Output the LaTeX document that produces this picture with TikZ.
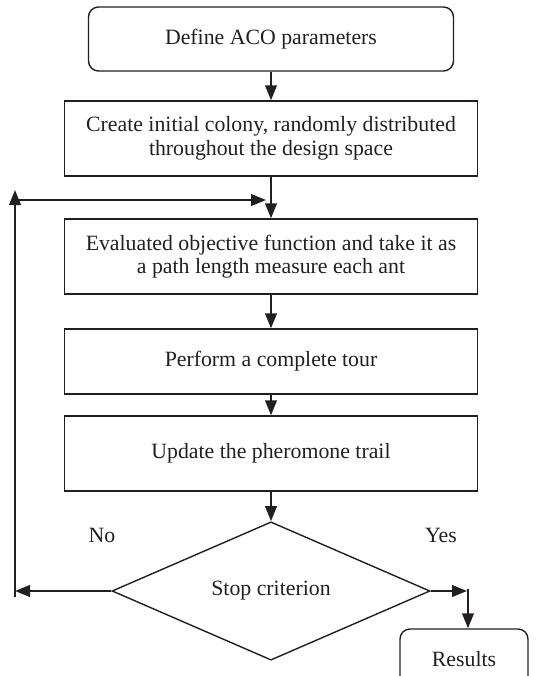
\documentclass[tikz,border=0pt]{standalone}
\usepackage{fontspec}
\setmainfont{Liberation Serif}
\usetikzlibrary{shapes.geometric,arrows.meta}
\definecolor{ink}{RGB}{35,31,32}

\begin{document}
\begin{tikzpicture}[x=0.5pt, y=-0.5pt,
  font=\fontsize{10.9}{11.8}\selectfont,
  stepbox/.style={draw=ink, line width=0.7pt, minimum width=206.5pt,
    minimum height=37.5pt, align=center, inner sep=2pt, text=ink},
  endbox/.style={stepbox, rounded corners=5pt},
  decision/.style={diamond, draw=ink, line width=0.7pt, minimum width=159pt,
    minimum height=52.5pt, inner sep=0pt, text=ink},
  flow/.style={draw=ink, line width=1.1pt, -{Triangle[length=7.5pt,width=5.8pt]}},
]

% Page size (pixels of the original)
\useasboundingbox (0,0) rectangle (539,676);

% Column of steps
\def\CX{271}

\node[endbox, minimum width=182.5pt, minimum height=32pt] (define) at (\CX,39) {Define ACO parameters};
\node[stepbox] (create) at (\CX,138.5) {Create initial colony, randomly distributed\\throughout the design space};
\node[stepbox] (evaluate) at (\CX,256.5) {Evaluated objective function and take it as\\a path length measure each ant};
\node[stepbox, minimum height=32.5pt] (tour) at (\CX,361.5) {Perform a complete tour};
\node[stepbox] (update) at (\CX,453.5) {Update the pheromone trail};

% Decision and end
\node[decision] (stop) at (\CX,591) {Stop criterion};
\node[endbox, minimum width=64pt, minimum height=30pt] (results) at (464,659) {Results};

% Labels
\node[text=ink] (no) at (102,535) {No};
\node[text=ink] (yes) at (441,535) {Yes};

% Main flow
\draw[flow] (define) -- (create);
\draw[flow] (create) -- (evaluate);
\draw[flow] (evaluate) -- (tour);
\draw[flow] (tour) -- (update);
\draw[flow] (update) -- (stop);

% Loop back (No)
\coordinate (loopbot) at (15,591);
\coordinate (looplow) at (15,597);
\coordinate (looptop) at (15,190);
\coordinate (loopin) at (15,200);
\coordinate (join) at (\CX,200);
\draw[flow] (stop.west) -- (loopbot);
\draw[flow] (looplow) -- (looptop);
\draw[flow, shorten >=2.5pt] (loopin) -- (join);

% Exit (Yes)
\coordinate (yescorner) at (468,591);
\draw[flow, shorten >=0.5pt] (stop.east) -- (yescorner);
\draw[flow] ([yshift=1pt]yescorner) -- (yescorner |- results.north);

\end{tikzpicture}
\end{document}
